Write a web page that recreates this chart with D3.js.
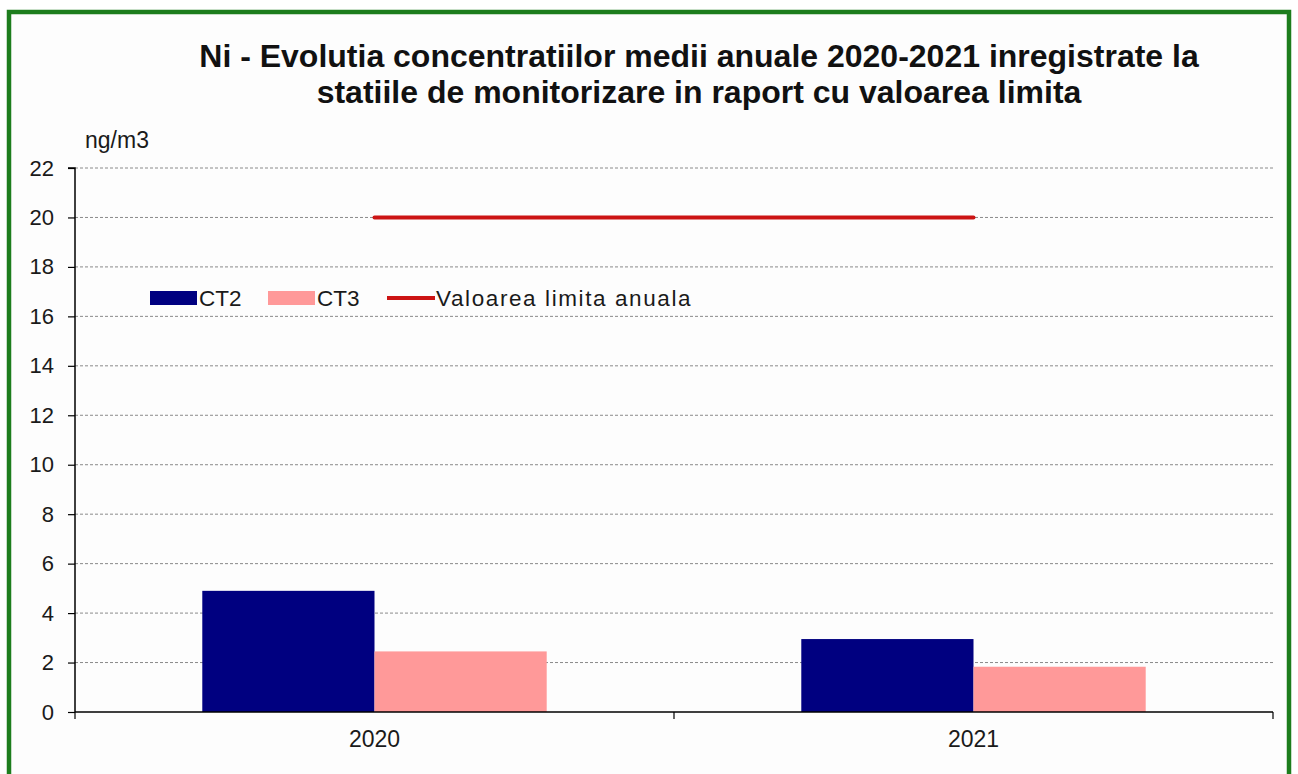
<!DOCTYPE html>
<html>
<head>
<meta charset="utf-8">
<script src="https://cdn.jsdelivr.net/npm/d3@7"></script>
<style>
  html, body { margin: 0; padding: 0; background: #ffffff; }
  svg { display: block; font-family: Arial, "Liberation Sans", sans-serif; }
</style>
</head>
<body>
<svg id="chart" width="1298" height="774"></svg>
<script>
// Annual mean Ni concentrations per monitoring station
const years = ["2020", "2021"];
const seriesNames = ["CT2", "CT3"];
const ct2Values = [4.9, 2.95];
const ct3Values = [2.45, 1.83];
const limitValues = [20, 20];
const yTicks = [0, 2, 4, 6, 8, 10, 12, 14, 16, 18, 20, 22];
const titleLines = [
  "Ni - Evolutia concentratiilor medii anuale 2020-2021 inregistrate la",
  "statiile de monitorizare in raport cu valoarea limita"
];
const unitLabel = "ng/m3";
const limitLabel = "Valoarea limita anuala";

const colors = { CT2: "#000080", CT3: "#ff9999", limit: "#cc1414" };
const FONT = "Arial, 'Liberation Sans', sans-serif";

const svg = d3.select("#chart");
const W = 1298, H = 774;
const plot = { left: 75, right: 1273, top: 168, bottom: 712 };

// Frame
svg.append("rect").attr("x", 0).attr("y", 0).attr("width", W).attr("height", H).attr("fill", "#ffffff");
svg.append("rect")
  .attr("x", 9).attr("y", 12).attr("width", 1280).attr("height", 780)
  .attr("fill", "#fdfdfd").attr("stroke", "#1d7d1d").attr("stroke-width", 4.5);

// Title
const title = svg.append("text").attr("text-anchor", "middle")
  .attr("font-size", 32).attr("font-weight", "bold").attr("fill", "#111");
titleLines.forEach((t, i) => {
  title.append("tspan").attr("x", 699).attr("y", 67 + i * 36).text(t);
});

// Scales
const x = d3.scaleBand().domain(years).range([plot.left, plot.right]).paddingInner(0).paddingOuter(0);
const y = d3.scaleLinear().domain([0, 22]).range([plot.bottom, plot.top]);
const groupWidth = x.bandwidth() * 0.575;
const xs = d3.scaleBand().domain(seriesNames).range([0, groupWidth]).padding(0);

// Grid lines
svg.append("g").selectAll("line").data(yTicks.filter(d => d > 0)).join("line")
  .attr("x1", plot.left).attr("x2", plot.right)
  .attr("y1", d => y(d)).attr("y2", d => y(d))
  .attr("stroke", "#8a8a8a").attr("stroke-width", 1).attr("stroke-dasharray", "3,2");

// Bars
const data = years.map((yr, i) => ({ year: yr, CT2: ct2Values[i], CT3: ct3Values[i] }));
const groups = svg.append("g").selectAll("g").data(data).join("g")
  .attr("transform", d => `translate(${x(d.year) + (x.bandwidth() - groupWidth) / 2},0)`);
groups.selectAll("rect").data(d => seriesNames.map(s => ({ s, v: d[s] }))).join("rect")
  .attr("x", d => xs(d.s)).attr("width", xs.bandwidth())
  .attr("y", d => y(d.v)).attr("height", d => y(0) - y(d.v))
  .attr("fill", d => colors[d.s]);

// Limit line
const line = d3.line().x((d, i) => x(years[i]) + x.bandwidth() / 2).y(d => y(d));
svg.append("path").datum(limitValues).attr("d", line)
  .attr("fill", "none").attr("stroke", colors.limit).attr("stroke-width", 4).attr("stroke-linecap", "round");

// Y axis
const yAxis = d3.axisLeft(y).tickValues(yTicks).tickSize(7).tickPadding(14).tickFormat(d3.format("d"));
const yg = svg.append("g").attr("transform", `translate(${plot.left},0)`).call(yAxis);
yg.attr("font-size", 22).attr("font-family", FONT);
yg.select(".domain").attr("stroke", "#000").attr("stroke-width", 1.5).attr("d", `M-7,${plot.top}H0V${plot.bottom}`);
yg.selectAll(".tick line").attr("stroke", "#000").attr("stroke-width", 1.2);
yg.selectAll(".tick text").attr("fill", "#1a1a1a");

// X axis
const xAxis = d3.axisBottom(x).tickSize(0).tickPadding(19);
const xg = svg.append("g").attr("transform", `translate(0,${plot.bottom})`).call(xAxis);
xg.attr("font-size", 23).attr("font-family", FONT);
xg.select(".domain").attr("stroke", "#000").attr("stroke-width", 1.5).attr("d", `M${plot.left},0H${plot.right}`);
xg.selectAll(".tick text").attr("fill", "#1a1a1a");
// Category boundary ticks
const bounds = [plot.left, ...years.slice(1).map(d => x(d)), plot.right];
xg.append("g").selectAll("line").data(bounds).join("line")
  .attr("x1", d => d).attr("x2", d => d).attr("y1", 0).attr("y2", 7)
  .attr("stroke", "#000").attr("stroke-width", 1.2);

// Unit label
svg.append("text").attr("x", 85).attr("y", 148).attr("font-size", 23).attr("fill", "#1a1a1a").text(unitLabel);

// Legend
const legend = svg.append("g").attr("font-size", 22.5).attr("fill", "#1a1a1a");
const legendItems = [
  { label: "CT2", kind: "bar", color: colors.CT2, x: 150 },
  { label: "CT3", kind: "bar", color: colors.CT3, x: 268 },
  { label: limitLabel, kind: "line", color: colors.limit, x: 387 }
];
legendItems.forEach(it => {
  if (it.kind === "bar") {
    legend.append("rect").attr("x", it.x).attr("y", 291).attr("width", 47).attr("height", 14).attr("fill", it.color);
  } else {
    legend.append("line").attr("x1", it.x).attr("x2", it.x + 48).attr("y1", 298).attr("y2", 298)
      .attr("stroke", it.color).attr("stroke-width", 4);
  }
  legend.append("text").attr("x", it.x + 49).attr("y", 306)
    .attr("letter-spacing", it.kind === "line" ? 1.6 : 0).text(it.label);
});
</script>
</body>
</html>
